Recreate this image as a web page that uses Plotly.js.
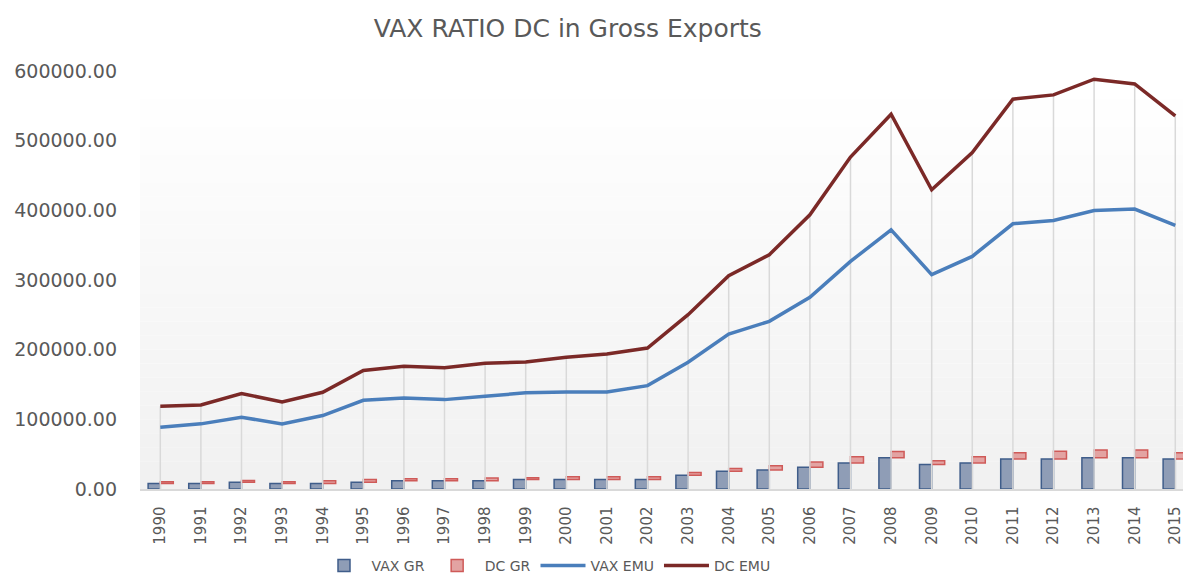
<!DOCTYPE html>
<html>
<head>
<meta charset="utf-8">
<script src="https://cdn.plot.ly/plotly-3.0.1.min.js"></script>
<style>html,body{margin:0;padding:0;background:#fff;}#chart{width:1183px;height:579px;}</style>
</head>
<body>
<div id="chart"></div>
<script>
const years = ['1990','1991','1992','1993','1994','1995','1996','1997','1998','1999','2000','2001','2002','2003','2004','2005','2006','2007','2008','2009','2010','2011','2012','2013','2014','2015'];
const vaxGR = [8000, 8000, 9800, 8000, 8000, 9800, 11700, 11700, 11700, 13500, 13500, 13500, 13500, 19700, 25500, 27400, 31200, 37400, 45000, 35000, 37400, 43100, 43100, 45000, 45000, 43100];
const dcGR  = [2500, 2500, 2500, 2500, 4000, 4000, 3000, 3000, 4000, 2500, 4000, 4000, 4000, 4000, 4000, 6000, 7500, 9000, 9000, 5500, 9000, 9000, 11000, 11000, 11000, 9000];
const vaxEMU = [88600, 93500, 103000, 93500, 105400, 127400, 130800, 128300, 133100, 138000, 139400, 139400, 148400, 181900, 222500, 240600, 275100, 326700, 372100, 307600, 333900, 380700, 385500, 399800, 401800, 378300];
const dcEMU  = [118700, 120700, 137000, 125000, 138800, 170000, 176100, 174200, 180500, 182400, 189000, 193800, 202400, 250200, 306200, 336300, 393600, 476400, 538000, 429500, 483000, 559600, 565700, 588200, 581500, 535600];

const grey = '#595959';
const font = 'DejaVu Sans, sans-serif';

// background gradient bands (style only)
const shapes = [];
const nb = 30;
for (let i = 0; i < nb; i++) {
  const t = i / (nb - 1);
  const c = Math.round(241 + (255 - 241) * t);
  shapes.push({type:'rect', xref:'paper', yref:'paper', x0:0, x1:1, y0:i/nb, y1:(i+1)/nb,
    fillcolor:`rgb(${c},${c},${c})`, line:{width:0}, layer:'below'});
}

const data = [
  {type:'bar', name:'VAX GR', x:years, y:vaxGR, width:0.3, offset:-0.3,
   marker:{color:'#8f9db6', line:{color:'#3f5d8a', width:1.5}}},
  {type:'bar', name:'DC GR', x:years, y:dcGR, base:vaxGR, width:0.32, offset:0,
   marker:{color:'#e3a3a2', line:{color:'#cf5a58', width:1.5}}},
  {type:'scatter', mode:'markers', x:years, y:dcEMU, showlegend:false, hoverinfo:'skip',
   marker:{size:1, opacity:0},
   error_y:{type:'data', symmetric:false, array:dcEMU.map(()=>0), arrayminus:dcEMU, color:'#d9d9d9', thickness:1.5, width:0}},
  {type:'scatter', mode:'lines', name:'VAX EMU', x:years, y:vaxEMU, line:{color:'#4a7ebb', width:3.5}},
  {type:'scatter', mode:'lines', name:'DC EMU', x:years, y:dcEMU, line:{color:'#7b2927', width:3.5}}
];

const layout = {
  width:1183, height:579,
  margin:{l:140, r:0, t:71, b:89.5, pad:0},
  paper_bgcolor:'#ffffff', plot_bgcolor:'rgba(0,0,0,0)',
  barmode:'overlay',
  title:{text:'VAX RATIO DC in Gross Exports', font:{family:font, size:25, color:grey},
    xref:'container', x:0.48, xanchor:'center', yref:'container', y:1-28/579, yanchor:'middle'},
  xaxis:{type:'category', range:[-0.5, 25.19], showgrid:false, zeroline:false,
    showline:true, linecolor:'#d9d9d9', linewidth:1.5, ticks:'', tickangle:-90,
    ticklabelstandoff:10, tickfont:{family:font, size:15, color:grey}},
  yaxis:{range:[0, 600000], dtick:100000, tickformat:'.2f', showgrid:false, zeroline:false,
    showline:false, ticks:'', ticklabelstandoff:22, tickfont:{family:font, size:19, color:grey}},
  legend:{orientation:'h', xref:'container', x:546/1183, xanchor:'center', yref:'container', y:1-566/579, yanchor:'middle',
    itemwidth:45, font:{family:font, size:14, color:grey}, bgcolor:'rgba(0,0,0,0)'},
  shapes:shapes,
  showlegend:true
};

Plotly.newPlot('chart', data, layout, {staticPlot:true, displayModeBar:false});
</script>
</body>
</html>
